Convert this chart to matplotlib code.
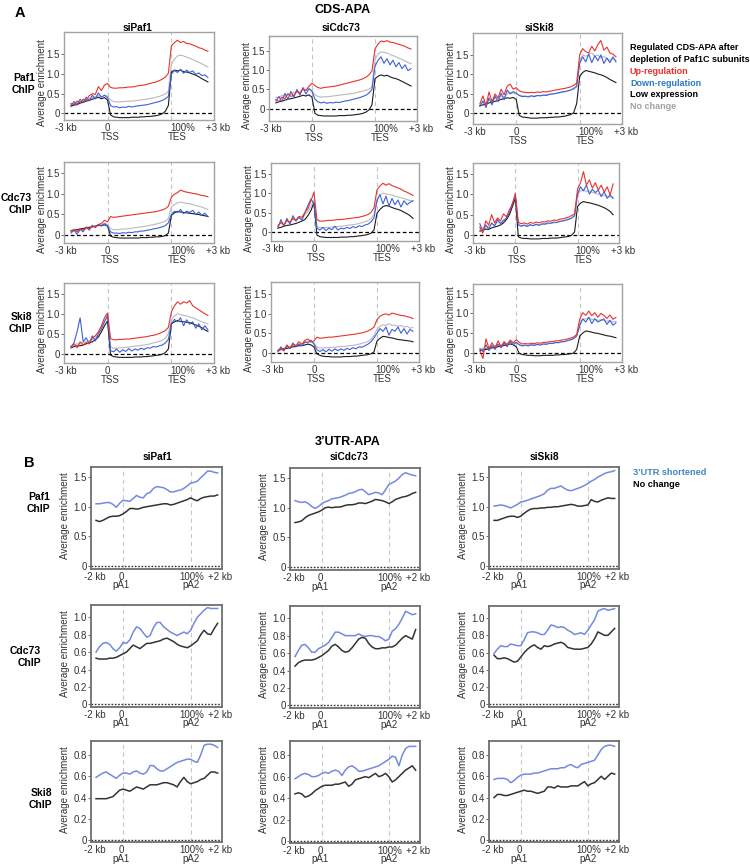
import numpy as np
import matplotlib
matplotlib.use("Agg")
import matplotlib.pyplot as plt

plt.rcParams["font.family"] = ["Liberation Sans", "DejaVu Sans"]

# ---------------- A: CDS-APA metagene profiles ----------------
# bins 0-12: -3 kb .. TSS, 12-33: scaled gene body, 33-45: TES .. +3 kb
# up = Up-regulation, dn = Down-regulation, low = Low expression, nc = No change

paf1_sipaf1_up = [0.25, 0.22, 0.31, 0.27, 0.36, 0.33, 0.45, 0.50, 0.48, 0.68, 0.58, 0.72, 0.76,
                  0.66, 0.64, 0.64, 0.65, 0.65, 0.66, 0.67, 0.67, 0.68, 0.70, 0.71, 0.72, 0.74, 0.76, 0.78, 0.80, 0.83, 0.87, 0.92, 1.02,
                  1.72, 1.80, 1.86, 1.80, 1.83, 1.78, 1.77, 1.74, 1.71, 1.67, 1.65, 1.61, 1.58]
paf1_sipaf1_nc = [0.22, 0.25, 0.24, 0.30, 0.31, 0.35, 0.38, 0.40, 0.42, 0.45, 0.42, 0.46, 0.44,
                  0.34, 0.30, 0.29, 0.29, 0.30, 0.30, 0.31, 0.31, 0.32, 0.33, 0.34, 0.35, 0.36, 0.38, 0.39, 0.41, 0.43, 0.46, 0.49, 0.56,
                  1.25, 1.38, 1.46, 1.48, 1.46, 1.43, 1.40, 1.37, 1.33, 1.30, 1.26, 1.22, 1.18]
paf1_sipaf1_dn = [0.20, 0.30, 0.22, 0.36, 0.27, 0.41, 0.32, 0.46, 0.37, 0.52, 0.41, 0.46, 0.40,
                  0.20, 0.16, 0.17, 0.14, 0.16, 0.15, 0.18, 0.16, 0.18, 0.19, 0.20, 0.21, 0.22, 0.24, 0.26, 0.28, 0.30, 0.33, 0.37, 0.43,
                  1.00, 1.09, 1.04, 1.12, 1.02, 1.10, 1.04, 1.08, 0.99, 1.03, 0.96, 0.98, 0.91]
paf1_sipaf1_low = [0.18, 0.21, 0.22, 0.26, 0.28, 0.31, 0.33, 0.36, 0.38, 0.41, 0.37, 0.40, 0.34,
                   -0.04, -0.09, -0.10, -0.11, -0.11, -0.11, -0.11, -0.10, -0.10, -0.10, -0.09, -0.09, -0.08, -0.08, -0.07, -0.06, -0.04, -0.01, 0.05, 0.20,
                   1.05, 1.10, 1.08, 1.10, 1.06, 1.05, 1.03, 1.00, 0.97, 0.93, 0.88, 0.84, 0.80]

paf1_sicdc73_up = [0.24, 0.18, 0.30, 0.26, 0.38, 0.32, 0.35, 0.45, 0.40, 0.52, 0.48, 0.58, 0.66,
                   0.60, 0.55, 0.53, 0.55, 0.56, 0.57, 0.58, 0.59, 0.61, 0.63, 0.65, 0.67, 0.69, 0.71, 0.73, 0.75, 0.78, 0.82, 0.88, 0.98,
                   1.55, 1.68, 1.76, 1.74, 1.77, 1.73, 1.72, 1.70, 1.67, 1.65, 1.62, 1.58, 1.55]
paf1_sicdc73_nc = [0.30, 0.28, 0.35, 0.32, 0.40, 0.36, 0.42, 0.45, 0.43, 0.50, 0.47, 0.52, 0.48,
                   0.36, 0.32, 0.30, 0.31, 0.31, 0.32, 0.33, 0.34, 0.35, 0.36, 0.37, 0.38, 0.39, 0.40, 0.42, 0.44, 0.46, 0.48, 0.51, 0.56,
                   1.28, 1.42, 1.48, 1.46, 1.45, 1.41, 1.38, 1.35, 1.31, 1.28, 1.24, 1.20, 1.17]
paf1_sicdc73_dn = [0.20, 0.32, 0.18, 0.40, 0.25, 0.45, 0.30, 0.50, 0.35, 0.55, 0.38, 0.52, 0.45,
                   0.25, 0.18, 0.15, 0.17, 0.14, 0.16, 0.15, 0.17, 0.16, 0.18, 0.20, 0.21, 0.23, 0.25, 0.27, 0.29, 0.32, 0.35, 0.41, 0.50,
                   1.10, 1.26, 1.35, 1.18, 1.30, 1.14, 1.26, 1.09, 1.20, 1.04, 1.14, 0.99, 1.04]
paf1_sicdc73_low = [0.15, 0.18, 0.20, 0.22, 0.25, 0.26, 0.28, 0.30, 0.32, 0.35, 0.33, 0.36, 0.30,
                    -0.12, -0.17, -0.18, -0.19, -0.19, -0.19, -0.19, -0.19, -0.18, -0.18, -0.18, -0.17, -0.17, -0.16, -0.15, -0.14, -0.12, -0.09, -0.03, 0.10,
                    0.78, 0.84, 0.88, 0.85, 0.87, 0.83, 0.80, 0.78, 0.75, 0.71, 0.67, 0.63, 0.59]

paf1_siski8_up = [0.25, 0.45, 0.20, 0.55, 0.30, 0.50, 0.40, 0.62, 0.48, 0.70, 0.75, 0.62, 0.66,
                  0.58, 0.55, 0.54, 0.53, 0.54, 0.53, 0.55, 0.54, 0.56, 0.55, 0.57, 0.58, 0.60, 0.61, 0.63, 0.64, 0.66, 0.68, 0.72, 0.78,
                  1.50, 1.66, 1.58, 1.55, 1.72, 1.60, 1.76, 1.87, 1.62, 1.70, 1.55, 1.52, 1.45]
paf1_siski8_nc = [0.22, 0.30, 0.25, 0.35, 0.32, 0.40, 0.38, 0.45, 0.42, 0.50, 0.55, 0.52, 0.50,
                  0.47, 0.45, 0.44, 0.44, 0.45, 0.45, 0.46, 0.46, 0.47, 0.48, 0.49, 0.50, 0.51, 0.52, 0.54, 0.55, 0.57, 0.59, 0.62, 0.67,
                  1.35, 1.50, 1.46, 1.52, 1.55, 1.46, 1.50, 1.42, 1.46, 1.40, 1.36, 1.40, 1.35]
paf1_siski8_dn = [0.18, 0.32, 0.15, 0.40, 0.22, 0.45, 0.30, 0.52, 0.35, 0.60, 0.50, 0.56, 0.52,
                  0.46, 0.43, 0.44, 0.42, 0.45, 0.43, 0.46, 0.45, 0.47, 0.46, 0.49, 0.50, 0.51, 0.53, 0.55, 0.56, 0.58, 0.60, 0.64, 0.70,
                  1.28, 1.45, 1.32, 1.52, 1.30, 1.48, 1.35, 1.50, 1.28, 1.42, 1.30, 1.45, 1.32]
paf1_siski8_low = [0.20, 0.22, 0.24, 0.27, 0.29, 0.31, 0.33, 0.36, 0.38, 0.40, 0.39, 0.41, 0.36,
                   -0.05, -0.09, -0.10, -0.11, -0.12, -0.12, -0.12, -0.11, -0.11, -0.11, -0.10, -0.10, -0.09, -0.09, -0.08, -0.07, -0.05, -0.03, 0.02, 0.25,
                   0.95, 1.05, 1.10, 1.08, 1.06, 1.04, 1.01, 0.99, 0.96, 0.92, 0.87, 0.83, 0.79]

cdc73_sipaf1_up = [0.10, 0.14, 0.08, 0.15, 0.12, 0.18, 0.16, 0.22, 0.20, 0.26, 0.28, 0.36, 0.32,
                   0.45, 0.43, 0.44, 0.45, 0.46, 0.47, 0.48, 0.49, 0.50, 0.51, 0.52, 0.53, 0.54, 0.55, 0.56, 0.57, 0.59, 0.61, 0.64, 0.70,
                   0.92, 0.99, 1.03, 1.09, 1.06, 1.04, 1.03, 1.01, 1.00, 0.98, 0.96, 0.95, 0.93]
cdc73_sipaf1_nc = [0.12, 0.10, 0.14, 0.12, 0.16, 0.15, 0.18, 0.20, 0.21, 0.23, 0.25, 0.28, 0.26,
                   0.16, 0.13, 0.13, 0.14, 0.15, 0.15, 0.16, 0.17, 0.18, 0.19, 0.20, 0.21, 0.22, 0.24, 0.25, 0.27, 0.29, 0.31, 0.34, 0.40,
                   0.68, 0.74, 0.78, 0.80, 0.78, 0.77, 0.76, 0.74, 0.72, 0.70, 0.68, 0.65, 0.62]
cdc73_sipaf1_dn = [0.05, 0.12, 0.02, 0.14, 0.08, 0.20, 0.12, 0.24, 0.18, 0.26, 0.22, 0.28, 0.22,
                   0.08, 0.05, 0.05, 0.04, 0.06, 0.05, 0.07, 0.06, 0.08, 0.08, 0.10, 0.10, 0.12, 0.13, 0.15, 0.16, 0.18, 0.20, 0.23, 0.30,
                   0.50, 0.58, 0.55, 0.62, 0.52, 0.58, 0.55, 0.60, 0.50, 0.56, 0.48, 0.53, 0.45]
cdc73_sipaf1_low = [0.10, 0.12, 0.13, 0.15, 0.16, 0.18, 0.19, 0.20, 0.22, 0.24, 0.23, 0.25, 0.22,
                    -0.02, -0.05, -0.06, -0.07, -0.07, -0.07, -0.07, -0.07, -0.07, -0.07, -0.06, -0.06, -0.06, -0.05, -0.05, -0.04, -0.04, -0.03, -0.01, 0.05,
                    0.48, 0.54, 0.57, 0.56, 0.55, 0.54, 0.53, 0.52, 0.51, 0.50, 0.48, 0.47, 0.45]

cdc73_sicdc73_up = [0.15, 0.25, 0.18, 0.30, 0.25, 0.35, 0.30, 0.40, 0.38, 0.50, 0.60, 0.80, 1.02,
                    0.32, 0.28, 0.28, 0.29, 0.30, 0.30, 0.31, 0.32, 0.32, 0.33, 0.34, 0.35, 0.36, 0.37, 0.38, 0.40, 0.42, 0.45, 0.50, 0.62,
                    1.08, 1.18, 1.25, 1.20, 1.24, 1.19, 1.16, 1.13, 1.10, 1.05, 1.02, 0.98, 0.94]
cdc73_sicdc73_nc = [0.18, 0.22, 0.20, 0.28, 0.25, 0.32, 0.30, 0.36, 0.35, 0.45, 0.52, 0.65, 0.82,
                    0.14, 0.11, 0.11, 0.12, 0.12, 0.13, 0.14, 0.14, 0.15, 0.16, 0.17, 0.18, 0.19, 0.20, 0.22, 0.24, 0.26, 0.29, 0.34, 0.45,
                    0.85, 0.95, 1.00, 0.98, 0.96, 0.95, 0.92, 0.90, 0.88, 0.86, 0.83, 0.81, 0.80]
cdc73_sicdc73_dn = [0.10, 0.32, 0.15, 0.35, 0.20, 0.42, 0.28, 0.38, 0.30, 0.50, 0.68, 0.85, 0.72,
                    0.10, 0.05, 0.12, 0.04, 0.10, 0.06, 0.15, 0.05, 0.10, 0.08, 0.12, 0.09, 0.14, 0.11, 0.16, 0.14, 0.18, 0.20, 0.26, 0.36,
                    0.80, 0.96, 0.72, 0.92, 0.66, 0.86, 0.70, 0.82, 0.64, 0.80, 0.70, 0.76, 0.80]
cdc73_sicdc73_low = [0.10, 0.12, 0.15, 0.17, 0.18, 0.20, 0.22, 0.25, 0.28, 0.32, 0.42, 0.55, 0.75,
                     -0.08, -0.12, -0.13, -0.14, -0.14, -0.14, -0.14, -0.14, -0.13, -0.13, -0.13, -0.12, -0.12, -0.11, -0.10, -0.09, -0.08, -0.06, -0.03, 0.05,
                     0.48, 0.58, 0.65, 0.68, 0.66, 0.63, 0.60, 0.58, 0.55, 0.51, 0.47, 0.42, 0.35]

cdc73_siski8_up = [0.20, 0.05, 0.35, 0.25, 0.50, 0.30, 0.42, 0.35, 0.52, 0.45, 0.62, 0.75, 1.02,
                   0.32, 0.28, 0.30, 0.27, 0.31, 0.29, 0.32, 0.30, 0.33, 0.32, 0.35, 0.34, 0.37, 0.36, 0.39, 0.40, 0.42, 0.44, 0.48, 0.52,
                   1.12, 1.28, 1.55, 1.22, 1.35, 1.15, 1.28, 1.10, 1.22, 1.05, 1.18, 0.98, 1.25]
cdc73_siski8_nc = [0.15, 0.18, 0.20, 0.22, 0.28, 0.25, 0.32, 0.30, 0.38, 0.40, 0.52, 0.70, 0.92,
                   0.24, 0.22, 0.23, 0.23, 0.24, 0.24, 0.25, 0.25, 0.26, 0.27, 0.28, 0.29, 0.30, 0.31, 0.33, 0.34, 0.36, 0.38, 0.41, 0.46,
                   1.00, 1.08, 1.10, 1.06, 1.08, 1.04, 1.02, 1.00, 0.98, 0.97, 0.95, 0.93, 0.92]
cdc73_siski8_dn = [0.28, 0.10, 0.25, 0.15, 0.30, 0.22, 0.38, 0.28, 0.35, 0.42, 0.55, 0.78, 0.95,
                   0.26, 0.22, 0.25, 0.21, 0.26, 0.23, 0.27, 0.24, 0.28, 0.27, 0.30, 0.29, 0.32, 0.31, 0.34, 0.35, 0.37, 0.39, 0.42, 0.48,
                   1.00, 1.18, 1.08, 1.22, 1.00, 1.12, 1.04, 1.10, 0.94, 1.06, 0.90, 0.98, 0.90]
cdc73_siski8_low = [0.10, 0.12, 0.15, 0.14, 0.18, 0.20, 0.22, 0.25, 0.30, 0.38, 0.50, 0.70, 0.90,
                    -0.04, -0.07, -0.08, -0.08, -0.09, -0.09, -0.09, -0.09, -0.08, -0.08, -0.08, -0.07, -0.07, -0.07, -0.06, -0.05, -0.04, -0.03, 0.00, 0.08,
                    0.70, 0.78, 0.82, 0.80, 0.79, 0.77, 0.75, 0.73, 0.70, 0.67, 0.63, 0.58, 0.50]

ski8_sipaf1_up = [0.18, 0.25, 0.15, 0.30, 0.22, 0.28, 0.25, 0.40, 0.45, 0.55, 0.70, 0.90, 1.02,
                  0.38, 0.35, 0.35, 0.36, 0.36, 0.37, 0.37, 0.38, 0.39, 0.40, 0.41, 0.42, 0.43, 0.45, 0.46, 0.48, 0.51, 0.54, 0.58, 0.66,
                  1.05, 1.20, 1.30, 1.24, 1.30, 1.27, 1.33, 1.20, 1.15, 1.10, 1.05, 1.00, 0.96]
ski8_sipaf1_nc = [0.20, 0.22, 0.25, 0.24, 0.28, 0.30, 0.32, 0.36, 0.40, 0.50, 0.65, 0.82, 0.92,
                  0.18, 0.14, 0.14, 0.15, 0.15, 0.16, 0.17, 0.18, 0.19, 0.20, 0.21, 0.22, 0.23, 0.25, 0.27, 0.29, 0.31, 0.34, 0.39, 0.50,
                  0.85, 0.95, 1.00, 0.98, 0.96, 0.95, 0.92, 0.90, 0.87, 0.83, 0.80, 0.77, 0.75]
ski8_sipaf1_dn = [0.15, 0.28, 0.55, 0.90, 0.30, 0.40, 0.25, 0.45, 0.32, 0.50, 0.62, 0.80, 0.96,
                  0.08, 0.05, 0.12, 0.04, 0.10, 0.06, 0.13, 0.07, 0.12, 0.09, 0.14, 0.11, 0.15, 0.14, 0.18, 0.17, 0.20, 0.22, 0.27, 0.36,
                  0.75, 0.86, 0.80, 0.90, 0.70, 0.85, 0.74, 0.80, 0.64, 0.75, 0.60, 0.70, 0.60]
ski8_sipaf1_low = [0.15, 0.18, 0.20, 0.20, 0.22, 0.25, 0.27, 0.30, 0.35, 0.42, 0.55, 0.70, 0.82,
                   -0.03, -0.07, -0.08, -0.09, -0.09, -0.09, -0.09, -0.09, -0.08, -0.08, -0.08, -0.07, -0.07, -0.06, -0.05, -0.04, -0.03, -0.01, 0.03, 0.12,
                   0.75, 0.80, 0.83, 0.81, 0.80, 0.79, 0.78, 0.75, 0.72, 0.69, 0.65, 0.60, 0.56]

ski8_sicdc73_up = [0.05, 0.10, 0.05, 0.18, 0.12, 0.22, 0.18, 0.28, 0.22, 0.32, 0.35, 0.28, 0.30,
                   0.40, 0.37, 0.38, 0.39, 0.40, 0.40, 0.41, 0.42, 0.43, 0.44, 0.45, 0.46, 0.47, 0.48, 0.50, 0.51, 0.53, 0.56, 0.60, 0.66,
                   0.85, 0.94, 0.98, 1.00, 0.97, 1.02, 1.00, 0.98, 0.96, 0.95, 0.93, 0.91, 0.88]
ski8_sicdc73_nc = [0.08, 0.12, 0.10, 0.15, 0.15, 0.18, 0.20, 0.22, 0.22, 0.26, 0.30, 0.28, 0.25,
                   0.15, 0.12, 0.12, 0.13, 0.13, 0.14, 0.14, 0.15, 0.16, 0.16, 0.17, 0.18, 0.19, 0.20, 0.22, 0.24, 0.26, 0.29, 0.34, 0.45,
                   0.60, 0.68, 0.72, 0.70, 0.75, 0.70, 0.71, 0.68, 0.70, 0.66, 0.68, 0.63, 0.65]
ski8_sicdc73_dn = [0.02, 0.15, 0.05, 0.20, 0.10, 0.25, 0.15, 0.22, 0.18, 0.28, 0.25, 0.32, 0.22,
                   0.08, 0.03, 0.08, 0.02, 0.09, 0.04, 0.10, 0.05, 0.10, 0.06, 0.11, 0.08, 0.13, 0.10, 0.15, 0.14, 0.18, 0.22, 0.28, 0.38,
                   0.50, 0.62, 0.55, 0.66, 0.45, 0.60, 0.55, 0.66, 0.50, 0.62, 0.48, 0.60, 0.55]
ski8_sicdc73_low = [0.05, 0.08, 0.10, 0.11, 0.13, 0.15, 0.16, 0.18, 0.18, 0.20, 0.22, 0.20, 0.15,
                    -0.03, -0.07, -0.09, -0.10, -0.10, -0.11, -0.11, -0.11, -0.11, -0.10, -0.10, -0.10, -0.09, -0.09, -0.08, -0.07, -0.06, -0.05, -0.03, 0.02,
                    0.30, 0.37, 0.42, 0.41, 0.39, 0.38, 0.36, 0.34, 0.33, 0.32, 0.31, 0.30, 0.28]

ski8_siski8_up = [0.05, -0.15, 0.35, 0.10, 0.25, 0.12, 0.30, 0.15, 0.28, 0.20, 0.32, 0.25, 0.33,
                  0.26, 0.22, 0.23, 0.22, 0.24, 0.23, 0.25, 0.24, 0.26, 0.26, 0.28, 0.28, 0.30, 0.30, 0.32, 0.33, 0.35, 0.37, 0.40, 0.46,
                  0.85, 1.02, 0.95, 1.06, 0.94, 1.02, 0.90, 1.00, 0.95, 0.87, 0.96, 0.85, 0.90]
ski8_siski8_nc = [0.08, 0.12, 0.10, 0.15, 0.14, 0.18, 0.17, 0.20, 0.20, 0.24, 0.26, 0.24, 0.26,
                  0.20, 0.18, 0.18, 0.19, 0.19, 0.20, 0.20, 0.21, 0.22, 0.22, 0.23, 0.24, 0.25, 0.26, 0.27, 0.28, 0.30, 0.32, 0.35, 0.42,
                  0.75, 0.85, 0.86, 0.90, 0.84, 0.86, 0.82, 0.84, 0.82, 0.80, 0.82, 0.78, 0.80]
ski8_siski8_dn = [0.10, 0.02, 0.20, 0.05, 0.18, 0.08, 0.22, 0.12, 0.25, 0.15, 0.28, 0.20, 0.26,
                  0.20, 0.17, 0.19, 0.17, 0.20, 0.18, 0.21, 0.19, 0.22, 0.21, 0.24, 0.23, 0.26, 0.25, 0.28, 0.28, 0.31, 0.33, 0.36, 0.42,
                  0.68, 0.86, 0.78, 0.90, 0.74, 0.86, 0.78, 0.82, 0.86, 0.72, 0.82, 0.70, 0.76]
ski8_siski8_low = [0.05, 0.07, 0.08, 0.10, 0.12, 0.13, 0.15, 0.17, 0.18, 0.20, 0.22, 0.20, 0.15,
                   -0.02, -0.05, -0.06, -0.07, -0.07, -0.08, -0.08, -0.08, -0.07, -0.07, -0.07, -0.07, -0.06, -0.06, -0.05, -0.05, -0.04, -0.03, -0.01, 0.08,
                   0.42, 0.50, 0.55, 0.54, 0.52, 0.50, 0.49, 0.47, 0.45, 0.43, 0.42, 0.40, 0.38]

# ---------------- B: 3'UTR-APA profiles ----------------
# bins 0-8: -2 kb .. pA1, 8-28: pA1 .. pA2 (scaled), 28-36: pA2 .. +2 kb
# sh = 3'UTR shortened, nch = No change

utr_paf1_sipaf1_sh = [1.05, 1.05, 1.06, 1.07, 1.07, 1.04, 0.99, 1.06, 1.11, 1.10, 1.09, 1.14, 1.19, 1.16, 1.15, 1.22,
                      1.24, 1.31, 1.34, 1.33, 1.32, 1.29, 1.25, 1.25, 1.27, 1.28, 1.31, 1.35, 1.40, 1.41, 1.43, 1.49,
                      1.54, 1.60, 1.60, 1.58, 1.57]
utr_paf1_sipaf1_nch = [0.77, 0.75, 0.77, 0.80, 0.83, 0.84, 0.84, 0.85, 0.88, 0.92, 0.97, 0.97, 0.96, 0.97, 0.99, 1.00,
                       1.01, 1.02, 1.03, 1.04, 1.05, 1.05, 1.03, 1.04, 1.06, 1.08, 1.10, 1.12, 1.15, 1.12, 1.10, 1.14,
                       1.16, 1.17, 1.18, 1.18, 1.20]
utr_paf1_sicdc73_sh = [1.12, 1.10, 1.09, 1.10, 1.07, 1.02, 0.99, 1.02, 1.07, 1.10, 1.12, 1.15, 1.16, 1.17, 1.19, 1.21,
                       1.24, 1.25, 1.27, 1.30, 1.31, 1.27, 1.22, 1.24, 1.26, 1.25, 1.22, 1.30, 1.39, 1.42, 1.45, 1.50,
                       1.56, 1.59, 1.57, 1.55, 1.54]
utr_paf1_sicdc73_nch = [0.75, 0.76, 0.78, 0.83, 0.87, 0.89, 0.91, 0.93, 0.96, 1.00, 1.01, 1.00, 1.01, 1.01, 1.02, 1.04,
                        1.05, 1.05, 1.06, 1.08, 1.08, 1.07, 1.09, 1.11, 1.14, 1.13, 1.12, 1.10, 1.07, 1.10, 1.14, 1.16,
                        1.18, 1.19, 1.21, 1.24, 1.26]
utr_paf1_siski8_sh = [1.01, 1.02, 1.03, 1.02, 1.00, 0.98, 1.01, 1.04, 1.08, 1.09, 1.11, 1.13, 1.15, 1.17, 1.19, 1.22,
                      1.28, 1.31, 1.31, 1.33, 1.35, 1.31, 1.28, 1.27, 1.29, 1.31, 1.33, 1.36, 1.39, 1.43, 1.46, 1.50,
                      1.53, 1.56, 1.58, 1.59, 1.61]
utr_paf1_siski8_nch = [0.77, 0.77, 0.79, 0.81, 0.83, 0.84, 0.84, 0.82, 0.84, 0.89, 0.93, 0.96, 0.97, 0.97, 0.98, 0.98,
                       0.99, 0.99, 1.00, 1.00, 1.01, 1.02, 1.03, 1.04, 1.03, 1.01, 1.01, 1.02, 1.03, 1.12, 1.09, 1.08,
                       1.11, 1.13, 1.15, 1.14, 1.14]

utr_cdc73_sipaf1_sh = [0.60, 0.66, 0.70, 0.71, 0.69, 0.64, 0.61, 0.65, 0.71, 0.70, 0.74, 0.83, 0.89, 0.87, 0.82, 0.77,
                       0.79, 0.88, 0.94, 0.94, 0.89, 0.86, 0.83, 0.81, 0.79, 0.81, 0.83, 0.81, 0.85, 0.93, 1.00, 1.04,
                       1.08, 1.11, 1.10, 1.10, 1.10]
utr_cdc73_sipaf1_nch = [0.53, 0.52, 0.52, 0.52, 0.53, 0.53, 0.54, 0.56, 0.58, 0.60, 0.64, 0.68, 0.66, 0.64, 0.67, 0.70,
                        0.70, 0.71, 0.72, 0.73, 0.75, 0.76, 0.74, 0.72, 0.69, 0.67, 0.66, 0.65, 0.67, 0.70, 0.73, 0.80,
                        0.85, 0.81, 0.80, 0.87, 0.93]
utr_cdc73_sicdc73_sh = [0.56, 0.63, 0.69, 0.70, 0.66, 0.61, 0.61, 0.65, 0.67, 0.69, 0.72, 0.78, 0.84, 0.84, 0.82, 0.80,
                        0.80, 0.80, 0.80, 0.82, 0.80, 0.79, 0.80, 0.80, 0.79, 0.79, 0.77, 0.74, 0.76, 0.85, 0.88, 0.93,
                        1.00, 1.08, 1.06, 1.04, 1.05]
utr_cdc73_sicdc73_nch = [0.45, 0.49, 0.51, 0.52, 0.52, 0.52, 0.53, 0.55, 0.57, 0.60, 0.63, 0.68, 0.70, 0.67, 0.63, 0.61,
                         0.62, 0.66, 0.71, 0.76, 0.78, 0.77, 0.71, 0.67, 0.65, 0.65, 0.66, 0.66, 0.67, 0.67, 0.69, 0.73,
                         0.77, 0.80, 0.78, 0.76, 0.87]
utr_cdc73_siski8_sh = [0.59, 0.64, 0.68, 0.67, 0.67, 0.70, 0.69, 0.68, 0.68, 0.75, 0.83, 0.84, 0.84, 0.83, 0.81, 0.81,
                       0.86, 0.92, 0.91, 0.89, 0.90, 0.89, 0.86, 0.84, 0.81, 0.82, 0.83, 0.81, 0.86, 0.92, 0.98, 1.08,
                       1.10, 1.11, 1.09, 1.10, 1.11]
utr_cdc73_siski8_nch = [0.57, 0.53, 0.53, 0.54, 0.53, 0.51, 0.49, 0.50, 0.55, 0.60, 0.64, 0.67, 0.69, 0.66, 0.64, 0.68,
                        0.67, 0.68, 0.70, 0.71, 0.72, 0.70, 0.66, 0.65, 0.64, 0.64, 0.64, 0.65, 0.66, 0.70, 0.76, 0.84,
                        0.82, 0.80, 0.80, 0.84, 0.88]

utr_ski8_sipaf1_sh = [0.59, 0.61, 0.63, 0.64, 0.62, 0.60, 0.58, 0.61, 0.63, 0.63, 0.62, 0.64, 0.65, 0.63, 0.62, 0.64,
                      0.70, 0.70, 0.67, 0.65, 0.65, 0.67, 0.69, 0.71, 0.73, 0.74, 0.75, 0.76, 0.76, 0.74, 0.73, 0.80,
                      0.89, 0.90, 0.90, 0.89, 0.87]
utr_ski8_sipaf1_nch = [0.39, 0.39, 0.39, 0.39, 0.40, 0.41, 0.44, 0.47, 0.48, 0.47, 0.46, 0.48, 0.50, 0.49, 0.48, 0.50,
                       0.52, 0.52, 0.52, 0.53, 0.54, 0.54, 0.53, 0.52, 0.50, 0.55, 0.59, 0.55, 0.53, 0.54, 0.55, 0.57,
                       0.58, 0.61, 0.64, 0.64, 0.63]
utr_ski8_sicdc73_sh = [0.58, 0.60, 0.62, 0.63, 0.62, 0.60, 0.60, 0.61, 0.63, 0.64, 0.63, 0.65, 0.66, 0.65, 0.61, 0.66,
                       0.69, 0.70, 0.68, 0.65, 0.65, 0.66, 0.67, 0.68, 0.69, 0.70, 0.72, 0.74, 0.76, 0.79, 0.78, 0.70,
                       0.80, 0.86, 0.88, 0.88, 0.88]
utr_ski8_sicdc73_nch = [0.44, 0.45, 0.44, 0.41, 0.42, 0.44, 0.47, 0.49, 0.51, 0.52, 0.52, 0.52, 0.53, 0.53, 0.54, 0.55,
                        0.51, 0.53, 0.57, 0.58, 0.59, 0.60, 0.59, 0.61, 0.63, 0.60, 0.61, 0.63, 0.60, 0.55, 0.57, 0.60,
                        0.63, 0.66, 0.68, 0.70, 0.66]
utr_ski8_siski8_sh = [0.57, 0.58, 0.58, 0.58, 0.57, 0.54, 0.56, 0.59, 0.61, 0.62, 0.62, 0.62, 0.63, 0.63, 0.64, 0.65,
                      0.66, 0.67, 0.67, 0.67, 0.68, 0.68, 0.70, 0.71, 0.69, 0.68, 0.71, 0.72, 0.73, 0.74, 0.75, 0.80,
                      0.85, 0.88, 0.89, 0.89, 0.88]
utr_ski8_siski8_nch = [0.40, 0.43, 0.43, 0.42, 0.42, 0.43, 0.44, 0.45, 0.46, 0.47, 0.46, 0.46, 0.45, 0.44, 0.45, 0.46,
                       0.50, 0.50, 0.49, 0.51, 0.50, 0.50, 0.50, 0.51, 0.51, 0.51, 0.53, 0.55, 0.51, 0.53, 0.54, 0.57,
                       0.60, 0.57, 0.60, 0.63, 0.62]

CHIPS = ["Paf1", "Cdc73", "Ski8"]
KNOCKDOWNS = ["siPaf1", "siCdc73", "siSki8"]

cds_profiles = [
    [(paf1_sipaf1_nc, paf1_sipaf1_low, paf1_sipaf1_dn, paf1_sipaf1_up),
     (paf1_sicdc73_nc, paf1_sicdc73_low, paf1_sicdc73_dn, paf1_sicdc73_up),
     (paf1_siski8_nc, paf1_siski8_low, paf1_siski8_dn, paf1_siski8_up)],
    [(cdc73_sipaf1_nc, cdc73_sipaf1_low, cdc73_sipaf1_dn, cdc73_sipaf1_up),
     (cdc73_sicdc73_nc, cdc73_sicdc73_low, cdc73_sicdc73_dn, cdc73_sicdc73_up),
     (cdc73_siski8_nc, cdc73_siski8_low, cdc73_siski8_dn, cdc73_siski8_up)],
    [(ski8_sipaf1_nc, ski8_sipaf1_low, ski8_sipaf1_dn, ski8_sipaf1_up),
     (ski8_sicdc73_nc, ski8_sicdc73_low, ski8_sicdc73_dn, ski8_sicdc73_up),
     (ski8_siski8_nc, ski8_siski8_low, ski8_siski8_dn, ski8_siski8_up)],
]
utr_profiles = [
    [(utr_paf1_sipaf1_nch, utr_paf1_sipaf1_sh), (utr_paf1_sicdc73_nch, utr_paf1_sicdc73_sh),
     (utr_paf1_siski8_nch, utr_paf1_siski8_sh)],
    [(utr_cdc73_sipaf1_nch, utr_cdc73_sipaf1_sh), (utr_cdc73_sicdc73_nch, utr_cdc73_sicdc73_sh),
     (utr_cdc73_siski8_nch, utr_cdc73_siski8_sh)],
    [(utr_ski8_sipaf1_nch, utr_ski8_sipaf1_sh), (utr_ski8_sicdc73_nch, utr_ski8_sicdc73_sh),
     (utr_ski8_siski8_nch, utr_ski8_siski8_sh)],
]

# ---------------- layout (pixels) ----------------
W, H = 750, 865
RED, BLUE, GRAY, BLACK = "#e8322c", "#3d5fdc", "#bababa", "#1c1c1c"
UTR_BLUE, UTR_BLACK = "#7489e0", "#333333"

cds_frames = [
    [(64, 32, 214, 120), (269, 36, 417, 121), (473, 33, 622, 124)],
    [(64, 162, 214, 243), (271, 163, 419, 241), (473, 163, 619, 243)],
    [(64, 283, 214, 363), (271, 282, 419, 362), (473, 284, 622, 362)],
]
cds_ylims = [
    [(-0.17, 2.07), (-0.32, 1.89), (-0.27, 2.06)],
    [(-0.19, 1.77), (-0.23, 1.77), (-0.19, 1.76)],
    [(-0.23, 1.77), (-0.24, 1.82), (-0.24, 1.75)],
]
utr_frames = [
    [(91, 467, 222, 569), (290, 468, 420, 570), (489, 467, 619, 569)],
    [(91, 605, 222, 707), (290, 606, 420, 708), (489, 606, 619, 707)],
    [(91, 741, 222, 842), (290, 741, 420, 843), (489, 741, 619, 842)],
]
utr_ylims = [(-0.05, 1.67), (-0.03, 1.14), (-0.015, 0.93)]
utr_yticks = [[0, 0.5, 1.0, 1.5], [0, 0.2, 0.4, 0.6, 0.8, 1.0], [0, 0.2, 0.4, 0.6, 0.8]]

fig = plt.figure(figsize=(W / 100, H / 100), dpi=100)


def add_frame(box):
    l, t, r, b = box
    return fig.add_axes([l / W, 1 - b / H, (r - l) / W, (b - t) / H])


def ftext(x, y, s, **kw):
    fig.text(x / W, 1 - y / H, s, **kw)


def under(ax, x, s, dy):
    ax.annotate(s, xy=(x, 0), xycoords=("data", "axes fraction"),
                xytext=(0, -dy * 0.72), textcoords="offset points",
                ha="center", va="center", fontsize=7, color="#333333",
                annotation_clip=False)


def style_axes(ax, spine_color, spine_width):
    for sp in ax.spines.values():
        sp.set_color(spine_color)
        sp.set_linewidth(spine_width)
    ax.set_xticks([])
    ax.tick_params(axis="y", labelsize=7, length=2, width=0.6, pad=1,
                   color="#555555", labelcolor="#333333")


# ---- A: CDS-APA ----
ftext(20, 13, "A", fontsize=10.5, fontweight="bold", ha="center", va="center")
ftext(343, 10, "CDS-APA", fontsize=9, fontweight="bold", ha="center", va="center")
for x, name in zip([137, 341, 539], KNOCKDOWNS):
    ftext(x, 28, name, fontsize=7.3, fontweight="bold", ha="center", va="center")

for r in range(3):
    for c in range(3):
        box = cds_frames[r][c]
        ax = add_frame(box)
        style_axes(ax, "#a3a3a3", 1.0)
        ax.set_xlim(-2.3, 47.0)
        ax.set_ylim(*cds_ylims[r][c])
        ax.set_yticks([0, 0.5, 1.0, 1.5])
        ax.set_yticklabels(["0", "0.5", "1.0", "1.5"])
        for xv in (12, 33):
            ax.axvline(xv, color="#c4c4c4", lw=0.8, ls=(0, (4, 3)), zorder=1)
        ax.axhline(0, color="black", lw=0.9, ls=(0, (3, 2)), zorder=1)
        for vals, col in zip(cds_profiles[r][c], [GRAY, BLACK, BLUE, RED]):
            ax.plot(np.arange(len(vals)), vals, color=col, lw=0.8, zorder=3)
        under(ax, -1.7, "-3 kb", 7.7)
        under(ax, 12, "0", 7.7)
        under(ax, 36.6, "100%", 7.7)
        under(ax, 48.3, "+3 kb", 7.7)
        under(ax, 12.8, "TSS", 16.7)
        under(ax, 34.9, "TES", 16.7)
        l, t, rr, b = box
        ftext(l - 22, (t + b) / 2 + 7, "Average enrichment", fontsize=7, color="#333333",
              rotation=90, ha="center", va="center")

for y, chip, xr in zip([84, 204, 323], CHIPS, [35, 32, 32]):
    ftext(xr, y, chip + "\nChIP", fontsize=7.5, fontweight="bold", ha="right", va="center",
          multialignment="right", linespacing=1.25)

legend_a = [("Regulated CDS-APA after", "black"), ("depletion of Paf1C subunits", "black"),
            ("Up-regulation", RED), ("Down-regulation", "#2a7bc2"),
            ("Low expression", "black"), ("No change", "#a0a0a0")]
for i, (s, col) in enumerate(legend_a):
    ftext(630, 47.3 + 11.9 * i, s, fontsize=6.5, fontweight="bold", color=col, ha="left", va="center")

# ---- B: 3'UTR-APA ----
ftext(29, 463, "B", fontsize=10.5, fontweight="bold", ha="center", va="center")
ftext(348, 442, "3\u2019UTR-APA", fontsize=9, fontweight="bold", ha="center", va="center")
for x, name in zip([157, 349, 544], KNOCKDOWNS):
    ftext(x, 457, name, fontsize=7.3, fontweight="bold", ha="center", va="center")

for r in range(3):
    for c in range(3):
        box = utr_frames[r][c]
        ax = add_frame(box)
        style_axes(ax, "#6e6e6e", 1.3)
        ax.set_xlim(-1.5, 37.3)
        ax.set_ylim(*utr_ylims[r])
        ax.set_yticks(utr_yticks[r])
        ax.set_yticklabels(["0" if v == 0 else f"{v:.1f}" for v in utr_yticks[r]])
        for xv in (8, 28):
            ax.axvline(xv, color="#c8c8c8", lw=0.8, ls=(0, (4, 3)), zorder=1)
        ax.axhline(0, color="#333333", lw=1.0, ls=(0, (1.2, 1.2)), zorder=1)
        for vals, col in zip(utr_profiles[r][c], [UTR_BLACK, UTR_BLUE]):
            ax.plot(np.arange(len(vals)), vals, color=col, lw=1.1, zorder=3)
        under(ax, -0.3, "-2 kb", 7.8)
        under(ax, 7.5, "0", 7.8)
        under(ax, 28.4, "100%", 7.8)
        under(ax, 36.6, "+2 kb", 7.8)
        under(ax, 7.5, "pA1", 16.5)
        under(ax, 28.2, "pA2", 16.5)
        l, t, rr, b = box
        ftext(l - 26, (t + b) / 2 - 2, "Average enrichment", fontsize=7, color="#333333",
              rotation=90, ha="center", va="center")

for y, chip, xr in zip([503, 657, 799], CHIPS, [50, 41, 52]):
    ftext(xr, y, chip + "\nChIP", fontsize=7.5, fontweight="bold", ha="right", va="center",
          multialignment="right", linespacing=1.25)

ftext(633, 472.3, "3\u2019UTR shortened", fontsize=6.6, fontweight="bold", color="#3d86c6",
      ha="left", va="center")
ftext(633, 484, "No change", fontsize=6.6, fontweight="bold", color="black", ha="left", va="center")

fig.savefig("out.png", dpi=100)
